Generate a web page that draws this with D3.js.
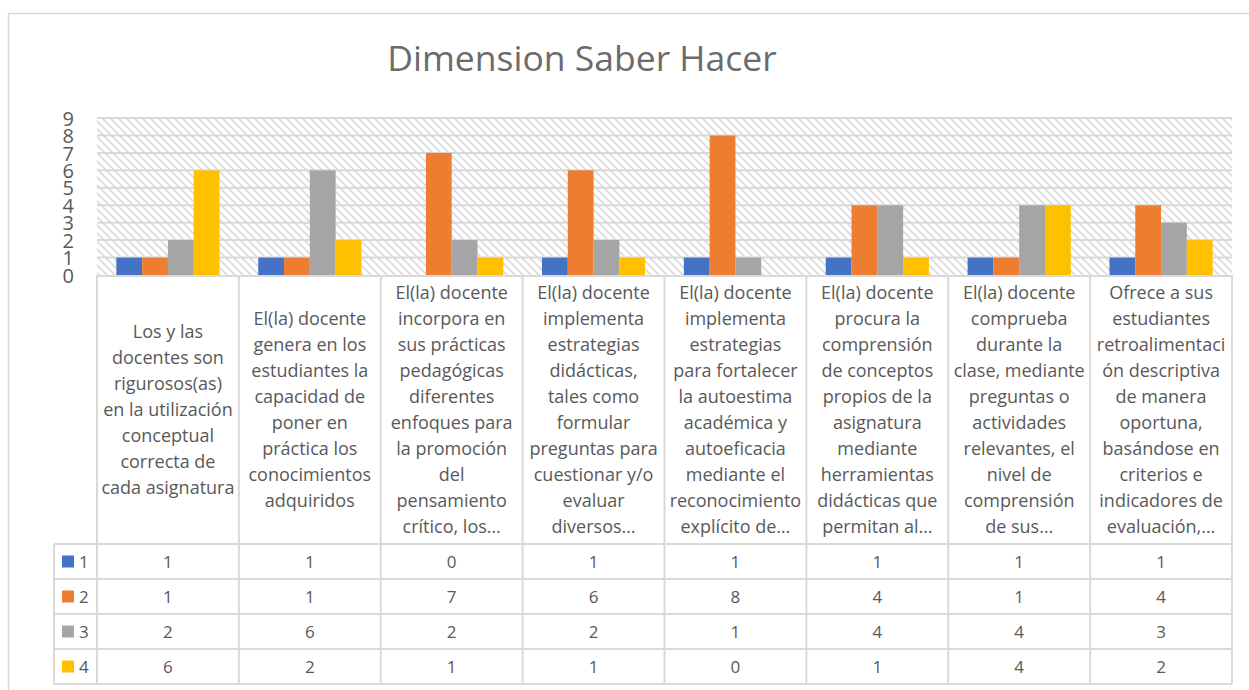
<!DOCTYPE html>
<html lang="en">
<head>
  <meta charset="UTF-8" />
  <title>Dimension Saber Hacer</title>
  <style>
    body {
      margin: 0;
      padding: 0;
      background: #fff;
    }
    svg text {
      font-family: "Open Sans", Arial, sans-serif;
      fill: #595959;
    }
  </style>
</head>
<body>
  <svg id="chart"></svg>

  <script src="https://cdnjs.cloudflare.com/ajax/libs/d3/7.8.5/d3.min.js"></script>
  <script>
    // categories (wrapped as in the original table cells)
    const categories = [
      ["Los y las", "docentes son", "rigurosos(as)", "en la utilización", "conceptual", "correcta de", "cada asignatura"],
      ["El(la) docente", "genera en los", "estudiantes la", "capacidad de", "poner en", "práctica los", "conocimientos", "adquiridos"],
      ["El(la) docente", "incorpora en", "sus prácticas", "pedagógicas", "diferentes", "enfoques para", "la promoción", "del", "pensamiento", "crítico, los…"],
      ["El(la) docente", "implementa", "estrategias", "didácticas,", "tales como", "formular", "preguntas para", "cuestionar y/o", "evaluar", "diversos…"],
      ["El(la) docente", "implementa", "estrategias", "para fortalecer", "la autoestima", "académica y", "autoeficacia", "mediante el", "reconocimiento", "explícito de…"],
      ["El(la) docente", "procura la", "comprensión", "de conceptos", "propios de la", "asignatura", "mediante", "herramientas", "didácticas que", "permitan al…"],
      ["El(la) docente", "comprueba", "durante la", "clase, mediante", "preguntas o", "actividades", "relevantes, el", "nivel de", "comprensión", "de sus…"],
      ["Ofrece a sus", "estudiantes", "retroalimentaci", "ón descriptiva", "de manera", "oportuna,", "basándose en", "criterios e", "indicadores de", "evaluación,…"]
    ];

    const seriesNames = ["1", "2", "3", "4"];
    const colors = ["#4472C4", "#ED7D31", "#A5A5A5", "#FFC000"];

    const s1 = [1, 1, 0, 1, 1, 1, 1, 1];
    const s2 = [1, 1, 7, 6, 8, 4, 1, 4];
    const s3 = [2, 6, 2, 2, 1, 4, 4, 3];
    const s4 = [6, 2, 1, 1, 0, 1, 4, 2];
    const seriesValues = [s1, s2, s3, s4];

    const yTicks = [0, 1, 2, 3, 4, 5, 6, 7, 8, 9];

    const W = 1249, H = 690;
    const plotLeft = 97, plotRight = 1232;
    const plotTop = 118, plotBottom = 275;
    const catRowBottom = 544;
    const rowH = 35;
    const legendLeft = 54;
    const grid = "#d9d9d9";

    const svg = d3.select("#chart").attr("width", W).attr("height", H);

    // hatch pattern for plot background
    const defs = svg.append("defs");
    const pat = defs.append("pattern")
      .attr("id", "hatch")
      .attr("patternUnits", "userSpaceOnUse")
      .attr("width", 8)
      .attr("height", 8);
    pat.append("rect").attr("width", 8).attr("height", 8).attr("fill", "#fff");
    pat.append("path")
      .attr("d", "M-1,-1 L9,9 M-9,-1 L1,9 M7,-1 L17,9")
      .attr("stroke", "#dadada")
      .attr("stroke-width", 1.6);

    // outer chart border
    svg.append("rect")
      .attr("x", 8.5).attr("y", 13.5)
      .attr("width", 1300).attr("height", 700)
      .attr("fill", "#fff")
      .attr("stroke", grid)
      .attr("stroke-width", 1.5);

    // title
    svg.append("text")
      .attr("x", 582)
      .attr("y", 71)
      .attr("text-anchor", "middle")
      .attr("font-size", "35.5px")
      .style("fill", "#6b6b6b")
      .text("Dimension Saber Hacer");

    const x0 = d3.scaleBand()
      .domain(d3.range(categories.length))
      .range([plotLeft, plotRight])
      .padding(0);

    const x1 = d3.scaleBand()
      .domain(d3.range(seriesNames.length))
      .range([0, x0.bandwidth()])
      .paddingInner(0)
      .paddingOuter(0.75);

    const y = d3.scaleLinear()
      .domain([0, 9])
      .range([plotBottom, plotTop]);

    // plot background
    svg.append("rect")
      .attr("x", plotLeft).attr("y", plotTop)
      .attr("width", plotRight - plotLeft)
      .attr("height", plotBottom - plotTop)
      .attr("fill", "url(#hatch)");

    // gridlines
    svg.append("g")
      .selectAll("line")
      .data(yTicks.filter(d => d > 0))
      .join("line")
      .attr("x1", plotLeft).attr("x2", plotRight)
      .attr("y1", d => y(d)).attr("y2", d => y(d))
      .attr("stroke", grid)
      .attr("stroke-width", 2);

    // y axis
    const yAxis = svg.append("g")
      .attr("transform", `translate(${plotLeft - 23},0)`)
      .call(d3.axisLeft(y).tickValues(yTicks).tickSize(0).tickPadding(0));
    yAxis.select(".domain").remove();
    yAxis.selectAll("text")
      .attr("font-size", "20px")
      .attr("dy", "0.36em")
      .style("font-family", "\"Open Sans\", Arial, sans-serif")
      .style("fill", "#595959");

    // bars
    const groups = svg.append("g")
      .selectAll("g")
      .data(categories.map((c, i) => i))
      .join("g")
      .attr("transform", i => `translate(${x0(i)},0)`);

    groups.selectAll("rect")
      .data(i => seriesValues.map((vals, s) => ({ s, v: vals[i] })))
      .join("rect")
      .attr("x", d => x1(d.s))
      .attr("width", x1.bandwidth())
      .attr("y", d => y(d.v))
      .attr("height", d => y(0) - y(d.v))
      .attr("fill", d => colors[d.s]);

    // data table
    const table = svg.append("g");
    const tableBottom = catRowBottom + rowH * seriesNames.length;

    // vertical lines for category columns
    const colEdges = d3.range(categories.length + 1).map(i =>
      i < categories.length ? x0(i) : plotRight);
    table.selectAll("line.v")
      .data(colEdges)
      .join("line")
      .attr("class", "v")
      .attr("x1", d => d).attr("x2", d => d)
      .attr("y1", plotBottom).attr("y2", tableBottom)
      .attr("stroke", grid).attr("stroke-width", 2);

    // legend column left edge
    table.append("line")
      .attr("x1", legendLeft).attr("x2", legendLeft)
      .attr("y1", catRowBottom).attr("y2", tableBottom)
      .attr("stroke", grid).attr("stroke-width", 2);

    // top line of category row
    table.append("line")
      .attr("x1", plotLeft).attr("x2", plotRight)
      .attr("y1", plotBottom + 1).attr("y2", plotBottom + 1)
      .attr("stroke", grid).attr("stroke-width", 2);

    // horizontal lines of data rows
    table.selectAll("line.h")
      .data(d3.range(seriesNames.length + 1))
      .join("line")
      .attr("class", "h")
      .attr("x1", legendLeft).attr("x2", plotRight)
      .attr("y1", r => catRowBottom + r * rowH)
      .attr("y2", r => catRowBottom + r * rowH)
      .attr("stroke", grid).attr("stroke-width", 2);

    // category labels
    const lineH = 26;
    const catMid = (plotBottom + catRowBottom) / 2;
    categories.forEach((lines, i) => {
      const cx = x0(i) + x0.bandwidth() / 2;
      const startY = catMid - (lines.length - 1) * lineH / 2;
      const t = table.append("text")
        .attr("text-anchor", "middle")
        .attr("font-size", "18px");
      lines.forEach((ln, k) => {
        t.append("tspan")
          .attr("x", cx)
          .attr("y", startY + k * lineH)
          .attr("dy", "0.36em")
          .text(ln);
      });
    });

    // legend keys and row values
    seriesNames.forEach((name, s) => {
      const cy = catRowBottom + s * rowH + rowH / 2;
      table.append("rect")
        .attr("x", 62).attr("y", cy - 6)
        .attr("width", 12).attr("height", 12)
        .attr("fill", colors[s]);
      table.append("text")
        .attr("x", 79).attr("y", cy)
        .attr("dy", "0.36em")
        .attr("font-size", "17px")
        .text(name);
      seriesValues[s].forEach((v, i) => {
        table.append("text")
          .attr("x", x0(i) + x0.bandwidth() / 2)
          .attr("y", cy)
          .attr("dy", "0.36em")
          .attr("text-anchor", "middle")
          .attr("font-size", "17px")
          .text(v);
      });
    });
  </script>
</body>
</html>
